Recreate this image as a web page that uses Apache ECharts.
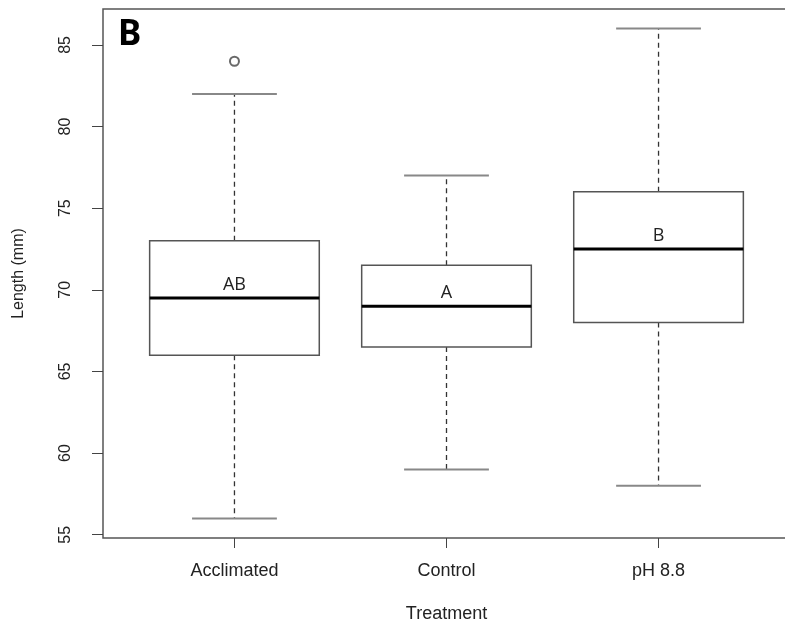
<!DOCTYPE html>
<html>
<head>
<meta charset="utf-8">
<script src="https://cdn.jsdelivr.net/npm/echarts@6/dist/echarts.min.js"></script>
<style>
  html, body { margin: 0; padding: 0; background: #fff; }
  #chart { width: 785px; height: 622px; }
</style>
</head>
<body>
<div id="chart"></div>
<script>
// groups along the x axis (positions 1..3)
const treatments = ['Acclimated', 'Control', 'pH 8.8']
// five-number summaries: [low whisker, Q1, median, Q3, high whisker]
const lowWhisker = [56, 59, 58]
const q1 = [66, 66.5, 68]
const median = [69.5, 69, 72.5]
const q3 = [73, 71.5, 76]
const highWhisker = [82, 77, 86]
// significance letters above the medians
const letters = ['AB', 'A', 'B']
// outliers as [group position, value]
const outliers = [[1, 84]]
const yTicks = [55, 60, 65, 70, 75, 80, 85]

const boxData = treatments.map((name, i) => [i + 1, lowWhisker[i], q1[i], median[i], q3[i], highWhisker[i], i])

const chart = echarts.init(document.getElementById('chart'))

function renderBox(params, api) {
  const x = api.value(0)
  const lo = api.value(1), b1 = api.value(2), med = api.value(3), b3 = api.value(4), hi = api.value(5)
  const idx = api.value(6)
  const halfBox = 0.4, halfCap = 0.2
  const tl = api.coord([x - halfBox, b3])
  const br = api.coord([x + halfBox, b1])
  const mL = api.coord([x - halfBox, med])
  const mR = api.coord([x + halfBox, med])
  const cx = api.coord([x, med])[0]
  const pHi = api.coord([x, hi])
  const pLo = api.coord([x, lo])
  const capHiL = api.coord([x - halfCap, hi])
  const capHiR = api.coord([x + halfCap, hi])
  const capLoL = api.coord([x - halfCap, lo])
  const capLoR = api.coord([x + halfCap, lo])
  const dash = { stroke: '#333', lineWidth: 1.3, lineDash: [5, 4] }
  const cap = { stroke: '#888', lineWidth: 2 }
  return {
    type: 'group',
    children: [
      { type: 'line', shape: { x1: cx, y1: tl[1], x2: cx, y2: pHi[1] }, style: dash },
      { type: 'line', shape: { x1: cx, y1: br[1], x2: cx, y2: pLo[1] }, style: dash },
      { type: 'line', shape: { x1: capHiL[0], y1: capHiL[1], x2: capHiR[0], y2: capHiR[1] }, style: cap },
      { type: 'line', shape: { x1: capLoL[0], y1: capLoL[1], x2: capLoR[0], y2: capLoR[1] }, style: cap },
      {
        type: 'rect',
        shape: { x: tl[0], y: tl[1], width: br[0] - tl[0], height: br[1] - tl[1] },
        style: { fill: '#fff', stroke: '#555', lineWidth: 1.5 },
      },
      { type: 'line', shape: { x1: mL[0], y1: mL[1], x2: mR[0], y2: mR[1] }, style: { stroke: '#000', lineWidth: 3 } },
      {
        type: 'text',
        x: cx,
        y: mL[1] - 4,
        style: {
          text: letters[idx],
          fill: '#222',
          font: '18px "Open Sans", sans-serif',
          align: 'center',
          verticalAlign: 'bottom',
          textAlign: 'center',
          textVerticalAlign: 'bottom',
        },
      },
    ],
  }
}

chart.setOption({
  animation: false,
  title: {
    text: 'B',
    left: 113,
    top: 13,
    textStyle: { fontFamily: 'Noto Sans', fontWeight: 'bold', fontSize: 35, color: '#000' },
  },
  grid: {
    left: 103,
    top: 9,
    width: 687,
    height: 529,
    outerBoundsMode: 'none',
    containLabel: false,
    show: true,
    borderColor: '#555',
    borderWidth: 1.5,
    backgroundColor: 'transparent',
  },
  xAxis: {
    type: 'value',
    min: 0.38,
    max: 3.62,
    name: 'Treatment',
    nameLocation: 'middle',
    nameGap: 67,
    nameTextStyle: { fontFamily: 'Liberation Sans', fontSize: 18, color: '#222' },
    axisLine: { show: false },
    splitLine: { show: false },
    axisTick: { show: true, length: 10, customValues: [1, 2, 3], lineStyle: { color: '#444' } },
    axisLabel: {
      customValues: [1, 2, 3],
      margin: 24,
      fontFamily: 'Liberation Sans',
      fontSize: 18,
      color: '#222',
      formatter: (v) => treatments[Math.round(v) - 1] || '',
    },
  },
  yAxis: {
    type: 'value',
    min: 54.8,
    max: 87.2,
    name: 'Length (mm)',
    nameLocation: 'middle',
    nameGap: 76,
    nameRotate: 90,
    nameTextStyle: { fontFamily: 'Liberation Sans', fontSize: 16, color: '#222' },
    axisLine: { show: false },
    splitLine: { show: false },
    axisTick: { show: true, length: 11, customValues: yTicks, lineStyle: { color: '#444' } },
    axisLabel: {
      customValues: yTicks,
      rotate: 90,
      margin: 29,
      fontFamily: 'Liberation Sans',
      fontSize: 16,
      color: '#222',
    },
  },
  series: [
    {
      type: 'custom',
      renderItem: renderBox,
      data: boxData,
      encode: { x: 0, y: [1, 2, 3, 4, 5] },
      z: 2,
    },
    {
      type: 'scatter',
      data: outliers,
      symbol: 'emptyCircle',
      symbolSize: 9,
      itemStyle: { color: '#444', borderColor: '#444', borderWidth: 1.5 },
      z: 3,
    },
  ],
})
</script>
</body>
</html>
